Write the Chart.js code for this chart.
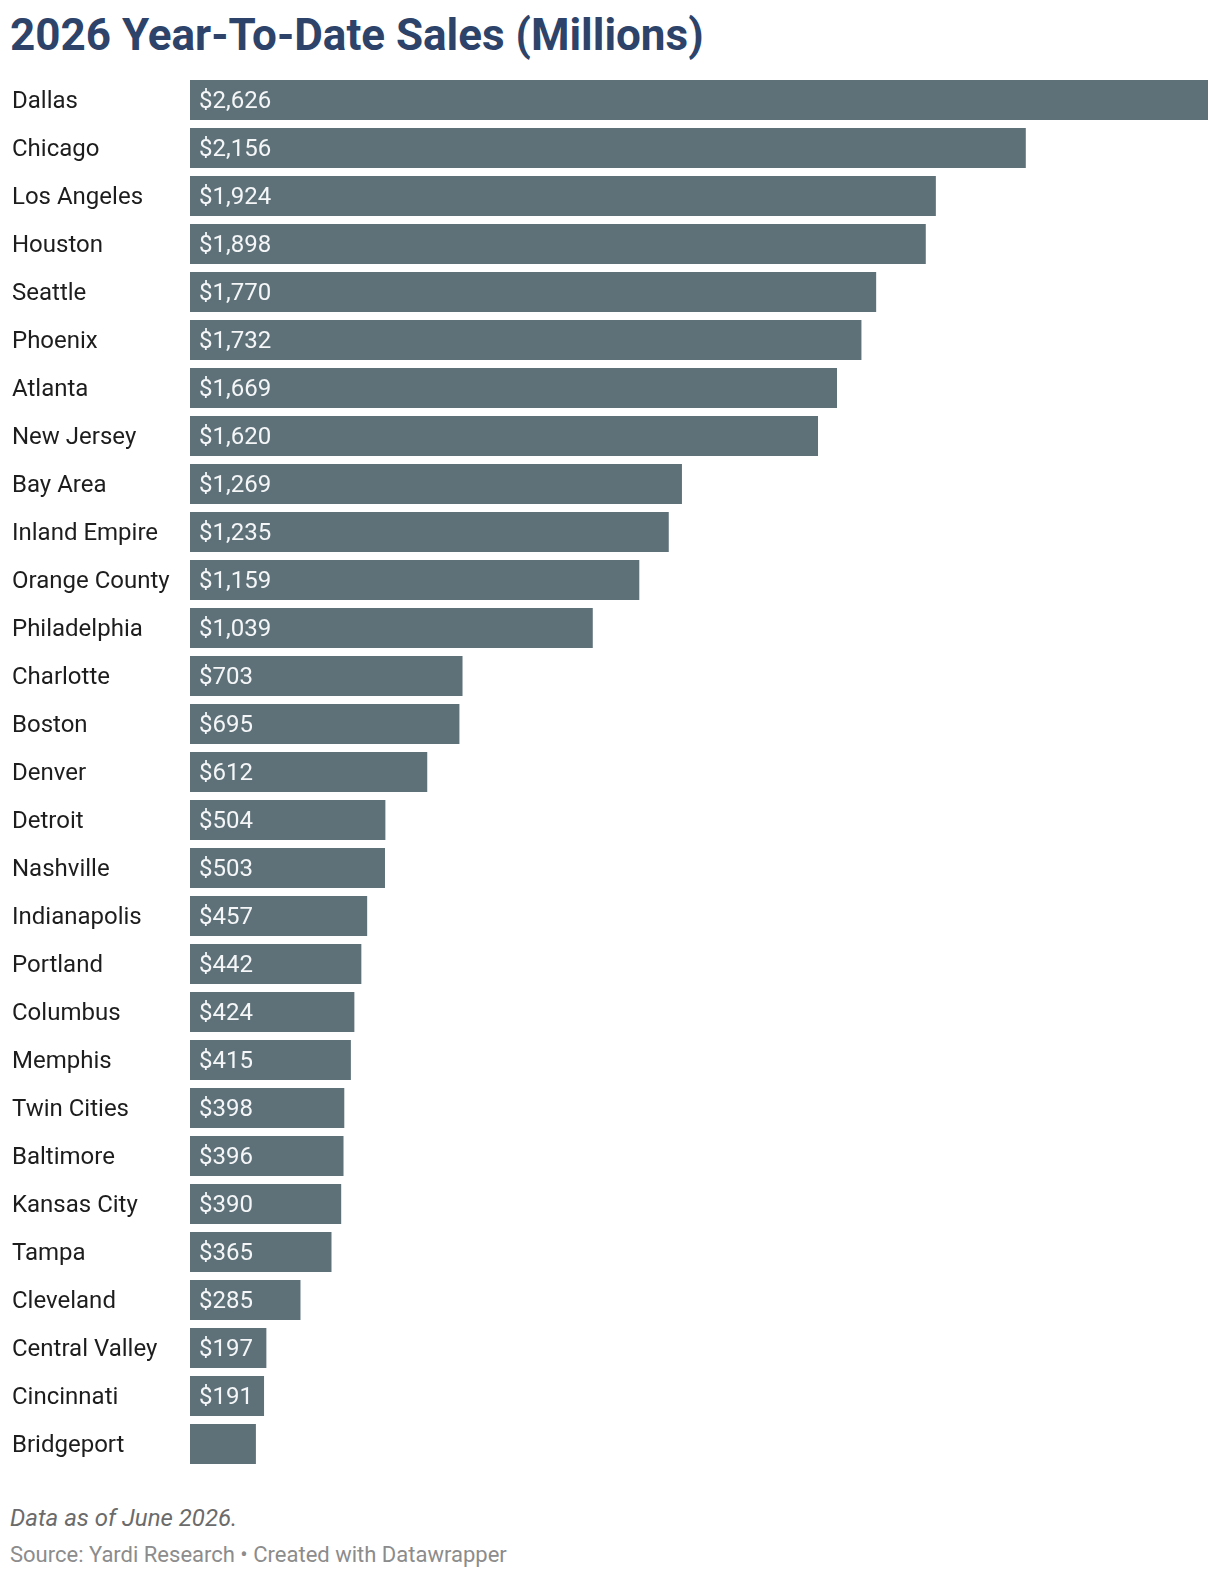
<!DOCTYPE html>
<html>
<head>
<meta charset="utf-8">
<script src="https://cdn.jsdelivr.net/npm/chart.js@4.4.1/dist/chart.umd.min.js"></script>
<style>
  html, body { margin:0; padding:0; background:#fff; width:1220px; height:1578px; overflow:hidden; }
  body { position:relative; font-family: Roboto, "Noto Sans", sans-serif; }
  #title { position:absolute; left:10px; top:9px; font-size:44px; line-height:52px; font-weight:700; color:#2d4369; white-space:nowrap; }
  #wrap { position:absolute; left:0; top:76px; width:1220px; height:1392px; }
  #note { position:absolute; left:10px; top:1504px; font-size:24px; line-height:28px; font-style:italic; color:#6b6b6b; white-space:nowrap; }
  #source { position:absolute; left:10px; top:1542px; font-size:22px; line-height:26px; color:#8c8c8c; white-space:nowrap; }
</style>
</head>
<body>
<div id="title">2026 Year-To-Date Sales (Millions)</div>
<div id="wrap"><canvas id="c"></canvas></div>
<div id="note">Data as of June 2026.</div>
<div id="source">Source: Yardi Research • Created with Datawrapper</div>
<script>
const categories = ["Dallas","Chicago","Los Angeles","Houston","Seattle","Phoenix","Atlanta","New Jersey","Bay Area","Inland Empire","Orange County","Philadelphia","Charlotte","Boston","Denver","Detroit","Nashville","Indianapolis","Portland","Columbus","Memphis","Twin Cities","Baltimore","Kansas City","Tampa","Cleveland","Central Valley","Cincinnati","Bridgeport"];
const sales = [2626,2156,1924,1898,1770,1732,1669,1620,1269,1235,1159,1039,703,695,612,504,503,457,442,424,415,398,396,390,365,285,197,191,170];

const BAR_COLOR = "#5e7179";

const valueLabels = {
  id: "valueLabels",
  afterDatasetsDraw(chart) {
    const ctx = chart.ctx;
    const meta = chart.getDatasetMeta(0);
    ctx.save();
    ctx.font = "24px Roboto";
    ctx.fillStyle = "#f4f6f7";
    ctx.textBaseline = "middle";
    ctx.textAlign = "left";
    meta.data.forEach((bar, i) => {
      const txt = "$" + sales[i].toLocaleString("en-US");
      const w = ctx.measureText(txt).width;
      const barW = bar.x - bar.base;
      if (w + 18 <= barW) {
        ctx.fillText(txt, bar.base + 9, bar.y + 2);
      }
    });
    ctx.restore();
  }
};

new Chart(document.getElementById("c"), {
  type: "bar",
  data: {
    labels: categories,
    datasets: [{
      data: sales,
      backgroundColor: BAR_COLOR,
      borderWidth: 0,
      barPercentage: 40/48,
      categoryPercentage: 1
    }]
  },
  options: {
    indexAxis: "y",
    responsive: true,
    maintainAspectRatio: false,
    animation: false,
    layout: { padding: { left: 12, right: 12, top: 0, bottom: 0 } },
    plugins: { legend: { display: false }, tooltip: { enabled: false } },
    scales: {
      x: { display: false, min: 0, max: 2626 },
      y: {
        grid: { display: false, drawTicks: false },
        border: { display: false },
        ticks: {
          color: "#1d1d1d",
          font: { family: "Roboto", size: 24 },
          crossAlign: "far",
          padding: 0,
          labelOffset: 2,
          autoSkip: false
        },
        afterFit(scale) { scale.width = 178; scale.paddingTop = 0; scale.paddingBottom = 0; }
      }
    }
  },
  plugins: [valueLabels]
});
</script>
</body>
</html>
